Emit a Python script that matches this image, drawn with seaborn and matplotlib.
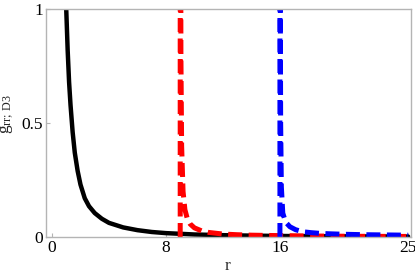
import matplotlib
matplotlib.use("Agg")
import matplotlib.pyplot as plt
import seaborn as sns
import pandas as pd

# ---- data ----
r_black = [0.9, 1.0, 1.1, 1.2, 1.3, 1.45, 1.6, 1.8, 2.0, 2.3, 2.6, 3.0, 3.5, 4.0,
           5.0, 6.0, 7.0, 8.0, 10.0, 12.0, 14.0, 16.0, 18.0, 20.0, 22.0, 25.0]
g_black = [1.23, 1.0, 0.82, 0.68, 0.58, 0.46, 0.37, 0.29, 0.23, 0.17, 0.135, 0.105,
           0.08, 0.062, 0.042, 0.03, 0.022, 0.017, 0.011, 0.008, 0.006, 0.0045,
           0.0035, 0.003, 0.0025, 0.002]

r_red = [9.0, 9.0, 9.02, 9.05, 9.1, 9.2, 9.33, 9.5, 9.7, 10.0, 10.5, 11.0, 12.0,
         13.0, 14.0, 16.0, 18.0, 20.0, 22.0, 25.0]
g_red = [0.0, 2.0, 2.0, 0.8, 0.4, 0.2, 0.12, 0.08, 0.057, 0.04, 0.027, 0.02, 0.013,
         0.01, 0.008, 0.006, 0.0045, 0.0036, 0.003, 0.0025]

r_blue = [16.0, 16.0, 16.02, 16.05, 16.1, 16.2, 16.4, 16.7, 17.1, 17.6, 18.2, 18.8,
          19.5, 20.5, 22.0, 25.0]
g_blue = [0.0, 2.0, 1.2, 0.5, 0.22, 0.105, 0.065, 0.045, 0.032, 0.023, 0.019, 0.016,
          0.014, 0.012, 0.01, 0.008]

x_ticks = [0, 8, 16, 25]
y_ticks = [0, 0.5, 1]
y_tick_labels = ["0", "0.5", "1"]

sns.set_theme(style="white")
plt.rcParams["font.family"] = ["Liberation Serif", "DejaVu Serif"]
plt.rcParams["mathtext.fontset"] = "custom"
plt.rcParams["mathtext.rm"] = "Liberation Serif"
plt.rcParams["mathtext.it"] = "Liberation Serif:italic"

fig = plt.figure(figsize=(4.15, 2.77), dpi=100)
ax = fig.add_axes([46 / 415, 40 / 277, 365 / 415, 228 / 277])

df_b = pd.DataFrame({"r": r_black, "g": g_black})
df_r = pd.DataFrame({"r": r_red, "g": g_red})
df_u = pd.DataFrame({"r": r_blue, "g": g_blue})

sns.lineplot(data=df_b, x="r", y="g", ax=ax, color="black", linewidth=3.2,
             estimator=None, sort=False)
sns.lineplot(data=df_r, x="r", y="g", ax=ax, color="#ff0000", linewidth=3.6,
             estimator=None, sort=False)
ax.lines[-1].set_dashes((2.8, 1.3))
sns.lineplot(data=df_u, x="r", y="g", ax=ax, color="#0000ff", linewidth=3.6,
             estimator=None, sort=False)
ax.lines[-1].set_dashes((2.8, 1.3))

ax.set_xlim(-0.42, 25.2)
ax.set_ylim(0, 1)
ax.set_xticks(x_ticks)
ax.set_xticklabels([str(t) for t in x_ticks])
ax.set_yticks(y_ticks)
ax.set_yticklabels(y_tick_labels)

for s in ax.spines.values():
    s.set_color("#b4b4b4")
    s.set_linewidth(1.0)
ax.tick_params(axis="both", direction="in", length=3, width=0.8, color="#b4b4b4",
               labelsize=12.5, labelcolor="black")
ax.tick_params(axis="x", pad=2)
ax.tick_params(axis="y", pad=2)
ax.tick_params(top=False, right=False, bottom=True, left=True)

ax.set_xlabel("r", fontsize=12.5)
ax.xaxis.label.set_va("center")
ax.xaxis.set_label_coords((228 - 46) / 365, -(266 - 237) / 228)
ax.set_ylabel(r"$\mathrm{g}_{\mathrm{rr;\,D3}}$", fontsize=12.5)
ax.yaxis.label.set_va("center")
ax.yaxis.set_label_coords(-39 / 365, (237 - 114) / 228)

fig.savefig("out.png", dpi=100)
